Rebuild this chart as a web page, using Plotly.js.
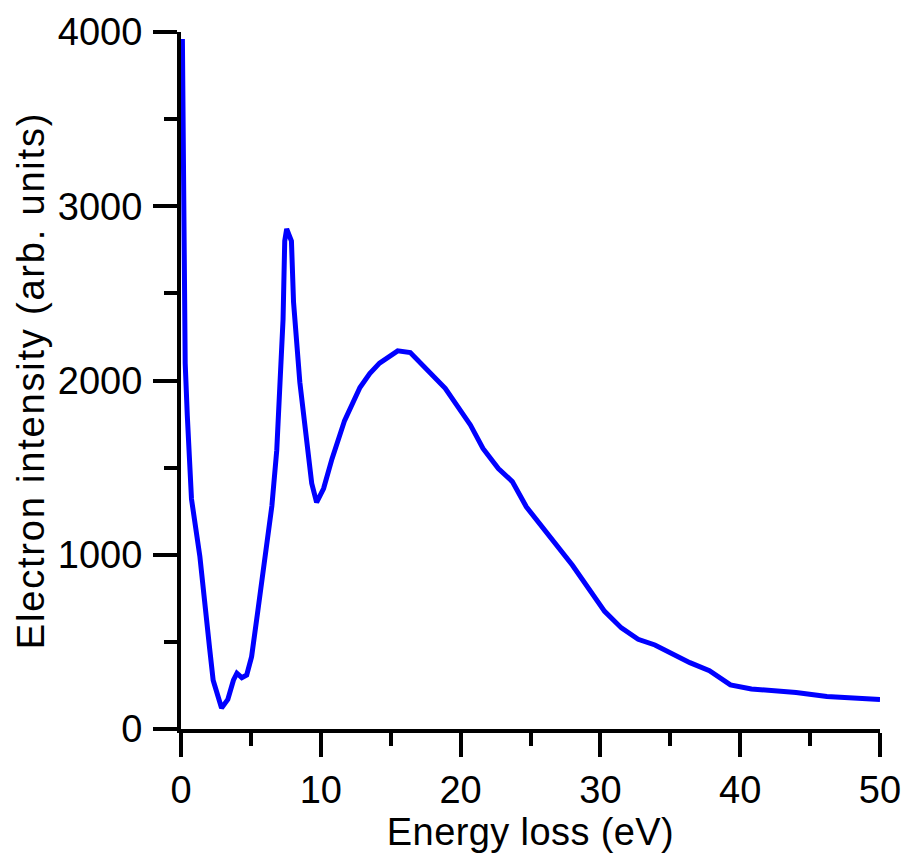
<!DOCTYPE html>
<html>
<head>
<meta charset="utf-8">
<script src="https://cdn.plot.ly/plotly-3.0.1.min.js"></script>
<style>
html,body{margin:0;padding:0;background:#fff;}
#chart{width:906px;height:853px;}
#chart .ytitle{letter-spacing:1.8px;}
#chart .xtitle{letter-spacing:0.4px;}
</style>
</head>
<body>
<div id="chart"></div>
<script>
const energyLoss = [0.1,0.15,0.2,0.3,0.45,0.75,1.35,1.75,2.05,2.3,2.9,3.35,3.75,4.0,4.35,4.7,5.05,5.5,6.1,6.5,6.85,7.1,7.3,7.42,7.56,7.9,8.05,8.5,9.0,9.35,9.7,10.2,10.8,11.7,12.8,13.5,14.2,15.5,16.4,18.9,20.7,21.6,22.7,23.7,24.7,26.9,28.0,30.3,31.5,32.7,33.9,36.4,37.8,39.3,40.8,44.0,46.2,50.0];
const intensity = [3960,3200,2500,2100,1800,1320,990,650,460,280,120,170,280,320,295,310,415,680,1070,1280,1600,2000,2350,2800,2870,2800,2450,1990,1660,1410,1300,1380,1550,1770,1960,2040,2100,2170,2160,1955,1745,1610,1495,1420,1275,1045,940,675,580,515,482,381,335,253,230,210,186,170];
const xTitle = 'Energy loss (eV)';
const yTitle = 'Electron intensity (arb. units)';

const fontFam = '"Liberation Sans", Arial, sans-serif';
const trace = {
  x: energyLoss, y: intensity, type: 'scatter', mode: 'lines',
  line: {color: '#0000ff', width: 5}, hoverinfo: 'skip'
};
const axisCommon = {
  showline: true, linewidth: 4, linecolor: '#000', showgrid: false, zeroline: false,
  ticks: 'outside', ticklen: 24, tickwidth: 4, tickcolor: '#000',
  tickfont: {family: fontFam, size: 38, color: '#000'}, automargin: false
};
const layout = {
  width: 906, height: 853,
  margin: {l: 181, r: 26, t: 32, b: 124},
  paper_bgcolor: '#fff', plot_bgcolor: '#fff', showlegend: false,
  xaxis: Object.assign({}, axisCommon, {
    range: [0, 50], dtick: 10, tick0: 0,
    minor: {dtick: 5, ticks: 'outside', ticklen: 13, tickwidth: 4, tickcolor: '#000'},
    title: {text: xTitle, font: {family: fontFam, size: 38, color: '#000'}, standoff: 4}
  }),
  yaxis: Object.assign({}, axisCommon, {
    range: [0, 4000], dtick: 1000, tick0: 0, ticklabelstandoff: 3,
    minor: {dtick: 500, ticks: 'outside', ticklen: 13, tickwidth: 4, tickcolor: '#000'},
    title: {text: yTitle, font: {family: fontFam, size: 38, color: '#000'}, standoff: 3}
  })
};
Plotly.newPlot('chart', [trace], layout, {displayModeBar: false, staticPlot: true});
</script>
</body>
</html>
